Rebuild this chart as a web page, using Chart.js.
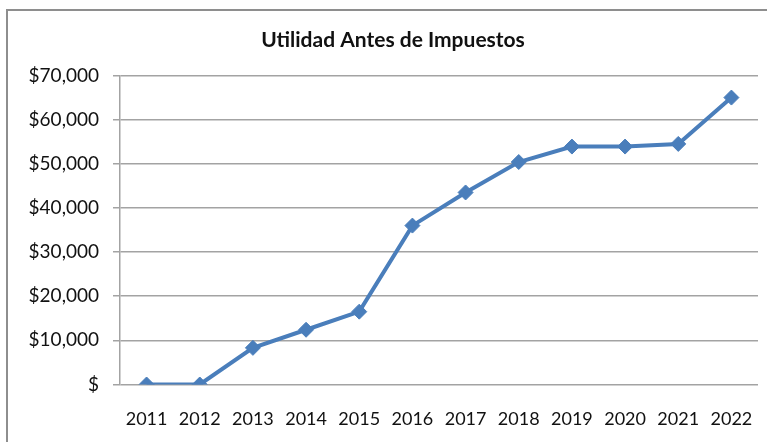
<!DOCTYPE html>
<html>
<head>
<meta charset="utf-8">
<script src="https://cdn.jsdelivr.net/npm/chart.js@4/dist/chart.umd.min.js"></script>
<style>
  html, body { margin: 0; padding: 0; background: #fff; overflow: hidden; }
  #wrap { position: relative; width: 767px; height: 442px; }
  #frame { position: absolute; left: 6px; top: 9px; width: 800px; height: 500px;
           border: 2px solid #8e8e8e; box-sizing: border-box; }
  #c { position: absolute; left: 0; top: 0; }
</style>
</head>
<body>
<div id="wrap">
  <div id="frame"></div>
  <canvas id="c" width="767" height="442"></canvas>
</div>
<script>
// Pre-tax profit by year
const years = ['2011', '2012', '2013', '2014', '2015', '2016', '2017', '2018', '2019', '2020', '2021', '2022'];
const utilidad = [0, 0, 8300, 12400, 16500, 36000, 43500, 50400, 53900, 53900, 54500, 65000];
const yTicks = [0, 10000, 20000, 30000, 40000, 50000, 60000, 70000];
const chartTitle = 'Utilidad Antes de Impuestos';

const lineBlue = '#4a7ebb';
const gridGray = '#a3a3a3';

function money(v) {
  return v === 0 ? '$' : '$' + v.toLocaleString('en-US');
}

// Chart title, drawn at a fixed spot above the plot
const titlePlugin = {
  id: 'plotTitle',
  afterDraw(chart) {
    const { ctx } = chart;
    ctx.save();
    ctx.font = 'bold 21px Lato';
    ctx.fillStyle = '#111';
    ctx.textAlign = 'center';
    ctx.textBaseline = 'middle';
    ctx.fillText(chartTitle, 393, 40);
    ctx.restore();
  }
};

new Chart(document.getElementById('c'), {
  type: 'line',
  data: {
    labels: years,
    datasets: [{
      label: chartTitle,
      data: utilidad,
      borderColor: lineBlue,
      backgroundColor: lineBlue,
      borderWidth: 4,
      pointStyle: 'rectRot',
      pointRadius: 7.5,
      pointBorderWidth: 1,
      pointBackgroundColor: lineBlue,
      pointBorderColor: lineBlue,
      tension: 0,
      fill: false
    }]
  },
  plugins: [titlePlugin],
  options: {
    responsive: false,
    animation: false,
    devicePixelRatio: 1,
    layout: { padding: { left: 0, right: 9, top: 75.5, bottom: 0 } },
    plugins: {
      legend: { display: false },
      tooltip: { enabled: false },
      title: { display: false }
    },
    scales: {
      x: {
        offset: true,
        grid: { display: false, drawTicks: false, offset: true },
        border: { display: false },
        ticks: {
          color: '#111',
          font: { family: 'Lato', size: 18 },
          padding: 24,
          maxRotation: 0,
          autoSkip: false
        },
        afterFit(scale) {
          scale.height = 57.5;
          scale.paddingLeft = 0;
          scale.paddingRight = 0;
        }
      },
      y: {
        min: 0,
        max: 70000,
        afterBuildTicks(scale) { scale.ticks = yTicks.map(v => ({ value: v })); },
        grid: { color: gridGray, lineWidth: 1.5, drawTicks: true, tickLength: 7 },
        border: { display: true, color: gridGray, width: 1.5 },
        ticks: {
          color: '#111',
          font: { family: 'Lato', size: 19 },
          padding: 14,
          callback: v => money(v)
        },
        afterFit(scale) { scale.width = 120; }
      }
    }
  }
});
</script>
</body>
</html>
